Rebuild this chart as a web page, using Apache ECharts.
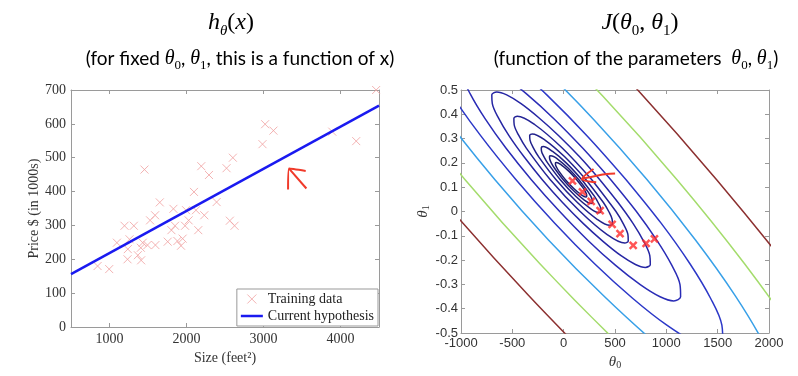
<!DOCTYPE html>
<html>
<head>
<meta charset="utf-8">
<title>Hypothesis and cost function</title>
<script src="https://cdn.jsdelivr.net/npm/echarts@6/dist/echarts.min.js"></script>
<style>
html, body { margin: 0; padding: 0; background: #fff; }
#cost_chart { width: 798px; height: 376px; }
</style>
</head>
<body>
<div id="cost_chart"></div>
<script>

// Data
// ------------------------------

// Training set (size in feet^2, price in $1000s)
var houseSize = [845, 996, 1096, 1195, 1238, 1234, 1260, 1316, 1368, 1411, 1407, 1432, 1454, 1493, 1527,
    1592, 1596, 1653, 1756, 1804, 1830, 1851, 1882, 1929, 1950, 1981, 1994, 2028, 2097, 2123,
    2153, 2192, 2231, 2292, 2391, 2520, 2563, 2602, 2624, 2987, 3021, 3129, 3893, 4204, 4463];
var housePrice = [180, 171, 249, 299, 230, 200, 259, 299, 212, 197, 234, 249, 465, 242, 315,
    330, 242, 368, 252, 286, 349, 299, 254, 240, 261, 299, 345, 315, 399, 345,
    286, 475, 330, 449, 369, 469, 314, 500, 299, 540, 599, 580, 577, 549, 700];

// Current hypothesis, end points
var hypothesisSize = [500, 4500];
var hypothesisPrice = [156, 654];

// Tick values of the size axis
var sizeTicks = [1000, 2000, 3000, 4000];

// Gradient descent steps (theta0, theta1)
var descentTheta0 = [884, 803, 677, 549, 472, 355, 268, 183, 86];
var descentTheta1 = [-0.113, -0.131, -0.139, -0.091, -0.053, 0.004, 0.042, 0.081, 0.126];

// Contours of J, innermost first ([theta0, theta1] points)
var contour1 = [[127,0.131],[49,0.166],[-24,0.192],[-70,0.202],[-80,0.200],[-79,0.192],[-68,0.181],[-47,0.166],[17,0.131],[96,0.096],[168,0.070],[214,0.060],[224,0.062],[223,0.070],[212,0.081],[191,0.096],[127,0.131]];
var contour2 = [[148,0.131],[40,0.180],[-60,0.216],[-125,0.229],[-138,0.226],[-136,0.216],[-121,0.200],[-92,0.180],[-4,0.131],[105,0.082],[204,0.046],[269,0.033],[282,0.036],[280,0.046],[265,0.062],[236,0.082],[148,0.131]];
var contour3 = [[177,0.131],[27,0.199],[-111,0.248],[-200,0.267],[-218,0.262],[-216,0.248],[-194,0.227],[-155,0.199],[-33,0.131],[117,0.063],[255,0.014],[344,-0.005],[362,0.000],[360,0.014],[338,0.035],[299,0.063],[177,0.131]];
var contour4 = [[218,0.131],[10,0.225],[-182,0.294],[-306,0.319],[-331,0.313],[-328,0.294],[-298,0.264],[-243,0.225],[-74,0.131],[134,0.037],[326,-0.032],[450,-0.057],[475,-0.051],[472,-0.032],[442,-0.002],[387,0.037],[218,0.131]];
var contour5 = [[274,0.131],[-14,0.261],[-280,0.357],[-451,0.392],[-485,0.383],[-482,0.357],[-440,0.315],[-364,0.261],[-130,0.131],[158,0.001],[424,-0.095],[595,-0.130],[629,-0.121],[626,-0.095],[584,-0.053],[508,0.001],[274,0.131]];
var contour6 = [[352,0.131],[155,0.225],[-48,0.312],[-242,0.386],[-415,0.444],[-555,0.480],[-652,0.492],[-700,0.480],[-695,0.444],[-638,0.387],[-533,0.312],[-386,0.225],[-208,0.131],[-11,0.037],[192,-0.050],[386,-0.124],[559,-0.182],[699,-0.218],[796,-0.230],[844,-0.218],[839,-0.182],[782,-0.125],[677,-0.050],[530,0.037],[352,0.131]];
var contour7 = [[459,0.131],[187,0.260],[-93,0.381],[-362,0.484],[-602,0.563],[-795,0.613],[-929,0.630],[-995,0.613],[-989,0.563],[-910,0.484],[-764,0.381],[-561,0.260],[-315,0.131],[-43,0.002],[237,-0.119],[506,-0.222],[746,-0.301],[939,-0.351],[1073,-0.368],[1139,-0.351],[1133,-0.301],[1054,-0.222],[908,-0.119],[705,0.002],[459,0.131]];
var contour8 = [[608,0.131],[231,0.310],[-157,0.477],[-530,0.620],[-861,0.730],[-1129,0.799],[-1315,0.823],[-1406,0.799],[-1397,0.730],[-1288,0.620],[-1086,0.477],[-805,0.310],[-464,0.131],[-87,-0.048],[301,-0.215],[674,-0.358],[1005,-0.468],[1273,-0.537],[1459,-0.561],[1550,-0.537],[1541,-0.468],[1432,-0.358],[1230,-0.215],[949,-0.048],[608,0.131]];
var contour9Upper = [[-760,0.807],[-245,0.609],[292,0.379],[813,0.131],[1284,-0.117],[1672,-0.347],[1952,-0.545],[2103,-0.697]];
var contour9Lower = [[-1808,0.807],[-1528,0.609],[-1140,0.379],[-669,0.131],[-148,-0.117],[389,-0.347],[904,-0.545],[1362,-0.697]];
var contour10Upper = [[-1086,1.072],[-369,0.797],[378,0.476],[1104,0.131],[1760,-0.214],[2301,-0.535],[2690,-0.810]];
var contour10Lower = [[-2546,1.072],[-2157,0.797],[-1616,0.476],[-960,0.131],[-234,-0.214],[513,-0.535],[1230,-0.810]];
var contour11Upper = [[-534,1.046],[492,0.605],[1490,0.131],[2391,-0.343],[3134,-0.784]];
var contour11Lower = [[-2990,1.046],[-2247,0.605],[-1346,0.131],[-348,-0.343],[678,-0.784]];

// Hand drawn arrows
var arrowLeftShaft = [[3332, 468], [3557, 409]];
var arrowLeftHead = [[3319, 406], [3332, 468], [3548, 461]];
var arrowRightShaft = [[178, 0.134], [324, 0.147], [420, 0.154], [501, 0.156]];
var arrowRightHead = [[291, 0.175], [178, 0.134], [317, 0.120]];


// Setup module
// ------------------------------

var CostFunctionCharts = function() {

    var serifFont = '"Liberation Serif", "DejaVu Serif", serif';
    var sansFont = 'Lato, "Open Sans", sans-serif';
    var axisFont = '"Liberation Sans", Arial, sans-serif';
    var crossIcon = 'path://M0,0L10,10M10,0L0,10';
    var lineIcon = 'path://M0,0H22V2.5H0Z';

    var zip = function(a, b) {
        return a.map(function(v, i) { return [v, b[i]]; });
    };

    var plain = function(v) {
        return String(+(+v).toFixed(1));
    };

    var _costFunctionExample = function() {
        if (typeof echarts == 'undefined') {
            console.warn('Warning - echarts.min.js is not loaded.');
            return;
        }

        var chart_element = document.getElementById('cost_chart');
        if (!chart_element) return;

        var chart = echarts.init(chart_element, null, { renderer: 'canvas' });

        // Contour styles
        var contourPieces = [
            [contour1, '#1e1e70'], [contour2, '#1f1f78'], [contour3, '#202082'],
            [contour4, '#22228c'], [contour5, '#242496'], [contour6, '#2626a4'],
            [contour7, '#2a2cb6'], [contour8, '#2c38c8'],
            [contour9Upper, '#38a0e8'], [contour9Lower, '#38a0e8'],
            [contour10Upper, '#a4dc6c'], [contour10Lower, '#a4dc6c'],
            [contour11Upper, '#8c3030'], [contour11Lower, '#8c3030']
        ];

        var contourSeries = contourPieces.map(function(p) {
            return {
                type: 'line',
                xAxisIndex: 2,
                yAxisIndex: 2,
                data: p[0],
                smooth: 0.34,
                symbol: 'none',
                silent: true,
                clip: true,
                lineStyle: { color: p[1], width: 1.5 },
                z: 2
            };
        });

        var arrowSeries = function(data, xi, yi) {
            return {
                type: 'line',
                xAxisIndex: xi,
                yAxisIndex: yi,
                data: data,
                smooth: 0.3,
                symbol: 'none',
                silent: true,
                lineStyle: { color: '#f03a2a', width: 2 },
                z: 6
            };
        };

        // Frame axis helper (box sides with inside ticks)
        var frameAxis = function(base) {
            return Object.assign({
                type: 'value',
                axisLine: { show: true, onZero: false, lineStyle: { color: '#9a9a9a', width: 1 } },
                axisTick: { show: true, inside: true, length: 4, lineStyle: { color: '#9a9a9a' } },
                axisLabel: { show: false },
                splitLine: { show: false }
            }, base);
        };

        var math = {
            i: { fontFamily: serifFont, fontStyle: 'italic', fontSize: 24, color: '#111', lineHeight: 32 },
            n: { fontFamily: serifFont, fontSize: 24, color: '#111', lineHeight: 32 },
            s: { fontFamily: serifFont, fontStyle: 'italic', fontSize: 15, color: '#111', verticalAlign: 'bottom', lineHeight: 15 },
            d: { fontFamily: serifFont, fontSize: 15, color: '#111', verticalAlign: 'bottom', lineHeight: 15 }
        };
        var note = {
            t: { fontFamily: sansFont, fontSize: 19, color: '#111', lineHeight: 26 },
            th: { fontFamily: serifFont, fontStyle: 'italic', fontSize: 20, color: '#111', lineHeight: 26 },
            sb: { fontFamily: serifFont, fontSize: 13, color: '#111', verticalAlign: 'bottom', lineHeight: 13 }
        };
        var axisMath = {
            t: { fontFamily: serifFont, fontStyle: 'italic', fontSize: 15, color: '#333' },
            s: { fontFamily: serifFont, fontSize: 10, color: '#333', verticalAlign: 'bottom', lineHeight: 10 }
        };

        chart.setOption({
            animation: false,
            backgroundColor: '#fff',

            graphic: [
                { type: 'text', x: 231, y: 23, style: { text: '{i|h}{s|θ}{n|(}{i|x}{n|)}', rich: math, align: 'center', verticalAlign: 'middle' } },
                { type: 'text', x: 240, y: 59, style: { text: '{t|(for fixed }{th|θ}{sb|0}{t|, }{th|θ}{sb|1}{t|, this is a function of x)}', rich: note, align: 'center', verticalAlign: 'middle' } },
                { type: 'text', x: 640, y: 23, style: { text: '{i|J}{n|(}{i|θ}{d|0}{n|, }{i|θ}{d|1}{n|)}', rich: math, align: 'center', verticalAlign: 'middle' } },
                { type: 'text', x: 636, y: 59, style: { text: '{t|(function of the parameters  }{th|θ}{sb|0}{t|, }{th|θ}{sb|1}{t|)}', rich: note, align: 'center', verticalAlign: 'middle' } }
            ],

            grid: [
                { left: 71, top: 90, width: 308, height: 237 },
                { left: 461, top: 90, width: 308, height: 243 }
            ],

            legend: {
                data: [
                    { name: 'Training data', icon: crossIcon, itemStyle: { color: 'rgba(0,0,0,0)', borderColor: '#f0a0a0', borderWidth: 1 } },
                    { name: 'Current hypothesis', icon: lineIcon, itemStyle: { color: '#1a1af0' } }
                ],
                orient: 'vertical',
                right: 420,
                bottom: 50,
                itemWidth: 22,
                itemHeight: 9,
                itemGap: 3,
                padding: [3, 4, 3, 4],
                backgroundColor: '#fff',
                borderColor: '#999',
                borderWidth: 1,
                selectedMode: false,
                textStyle: { fontFamily: serifFont, fontSize: 14, color: '#222' }
            },

            xAxis: [
                frameAxis({
                    gridIndex: 0, min: 500, max: 4500, position: 'bottom',
                    axisTick: { show: true, inside: true, length: 4, customValues: sizeTicks, lineStyle: { color: '#9a9a9a' } },
                    axisLabel: { show: true, customValues: sizeTicks, margin: 5, fontFamily: serifFont, fontSize: 14, color: '#333', formatter: plain },
                    name: 'Size (feet²)', nameLocation: 'middle', nameGap: 24,
                    nameTextStyle: { fontFamily: serifFont, fontSize: 14, color: '#333' }
                }),
                frameAxis({
                    gridIndex: 0, min: 500, max: 4500, position: 'top',
                    axisTick: { show: true, inside: true, length: 4, customValues: sizeTicks, lineStyle: { color: '#9a9a9a' } }
                }),
                frameAxis({
                    gridIndex: 1, min: -1000, max: 2000, interval: 500, position: 'bottom',
                    axisLabel: { show: true, margin: 4, fontFamily: axisFont, fontSize: 13, color: '#333', formatter: plain },
                    name: '{t|θ}{s|0}', nameLocation: 'middle', nameGap: 16,
                    nameTextStyle: { rich: axisMath }
                }),
                frameAxis({ gridIndex: 1, min: -1000, max: 2000, interval: 500, position: 'top' })
            ],

            yAxis: [
                frameAxis({
                    gridIndex: 0, min: 0, max: 700, interval: 100, position: 'left',
                    axisLabel: { show: true, margin: 5, fontFamily: serifFont, fontSize: 14, color: '#333', formatter: plain },
                    name: 'Price $ (in 1000s)', nameLocation: 'middle', nameGap: 30, nameRotate: 90,
                    nameTextStyle: { fontFamily: serifFont, fontSize: 14, color: '#333' }
                }),
                frameAxis({ gridIndex: 0, min: 0, max: 700, interval: 100, position: 'right' }),
                frameAxis({
                    gridIndex: 1, min: -0.5, max: 0.5, interval: 0.1, position: 'left',
                    axisLabel: { show: true, margin: 3, fontFamily: axisFont, fontSize: 13, color: '#333', formatter: plain },
                    name: '{t|θ}{s|1}', nameLocation: 'middle', nameGap: 30, nameRotate: 90,
                    nameTextStyle: { rich: axisMath }
                }),
                frameAxis({ gridIndex: 1, min: -0.5, max: 0.5, interval: 0.1, position: 'right' })
            ],

            series: [
                {
                    name: 'Training data',
                    type: 'scatter',
                    xAxisIndex: 0,
                    yAxisIndex: 0,
                    data: zip(houseSize, housePrice),
                    symbol: crossIcon,
                    symbolSize: 8,
                    itemStyle: { color: 'rgba(0,0,0,0)', borderColor: '#f0a0a0', borderWidth: 1 },
                    z: 3
                },
                {
                    name: 'Current hypothesis',
                    type: 'line',
                    xAxisIndex: 0,
                    yAxisIndex: 0,
                    data: zip(hypothesisSize, hypothesisPrice),
                    symbol: 'none',
                    lineStyle: { color: '#1a1af0', width: 2.5 },
                    z: 4
                },
                arrowSeries(arrowLeftShaft, 0, 0),
                arrowSeries(arrowLeftHead, 0, 0),
                {
                    name: 'Descent',
                    type: 'scatter',
                    xAxisIndex: 2,
                    yAxisIndex: 2,
                    data: zip(descentTheta0, descentTheta1),
                    symbol: crossIcon,
                    symbolSize: 7,
                    itemStyle: { color: 'rgba(0,0,0,0)', borderColor: '#ff2a2a', borderWidth: 2.5 },
                    z: 5
                },
                arrowSeries(arrowRightShaft, 2, 2),
                arrowSeries(arrowRightHead, 2, 2)
            ].concat(contourSeries)
        });

        window.addEventListener('resize', function() {
            chart.resize();
        });
    };

    return {
        init: function() {
            _costFunctionExample();
        }
    };
}();


// Initialize module
// ------------------------------

document.addEventListener('DOMContentLoaded', function() {
    CostFunctionCharts.init();
});
</script>
</body>
</html>
